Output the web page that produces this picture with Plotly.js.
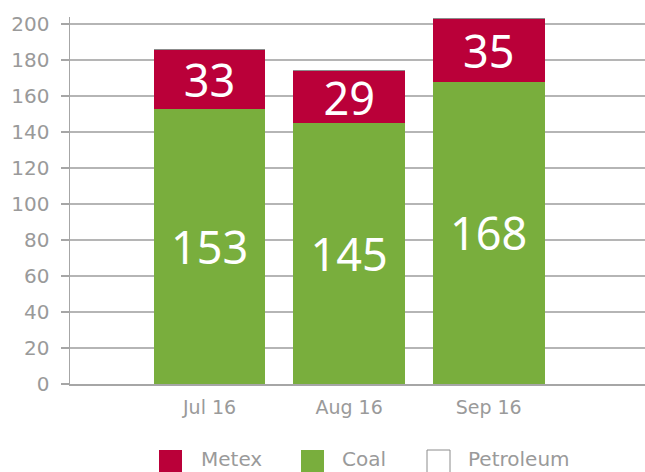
<!DOCTYPE html>
<html>
<head>
<meta charset="utf-8">
<script src="https://cdn.plot.ly/plotly-3.0.1.min.js"></script>
<style>html,body{margin:0;padding:0;background:#fff;}#chart{width:645px;height:472px;}</style>
</head>
<body>
<div id="chart"></div>
<script>
var categories = ["Jul 16", "Aug 16", "Sep 16"];
var coal = [153, 145, 168];
var metex = [33, 29, 35];
var petroleum = [0, 0, 0];
var yTicks = [0, 20, 40, 60, 80, 100, 120, 140, 160, 180, 200];
var seriesNames = ["Metex", "Coal", "Petroleum"];
var seriesColors = ["#ba0039", "#79ae3d", "#ffffff"];

var FONT = "'DejaVu Sans', 'Noto Sans', sans-serif";
var BIGFONT = "'Noto Sans', 'Open Sans', sans-serif";
var GREY = "#9a9a9a";

var M = {l: 70, r: 0, t: 17, b: 88};
var W = 645, H = 472;
var pw = W - M.l - M.r, ph = H - M.t - M.b;
function px2x(px) { return (px - M.l) / pw; }
function px2y(py) { return (H - M.b - py) / ph; }

var traces = [
  {
    type: "bar", name: "Coal", x: categories, y: coal,
    marker: {color: seriesColors[1]},
    text: coal.map(String), textposition: "inside", insidetextanchor: "middle",
    textangle: 0, constraintext: "none",
    textfont: {color: "#ffffff", size: 45, family: BIGFONT},
    hoverinfo: "none", showlegend: false
  },
  {
    type: "bar", name: "Metex", x: categories, y: metex,
    marker: {color: seriesColors[0]},
    text: metex.map(String), textposition: "inside", insidetextanchor: "middle",
    textangle: 0, constraintext: "none",
    textfont: {color: "#ffffff", size: 45, family: BIGFONT},
    hoverinfo: "none", showlegend: false
  },
  {
    type: "bar", name: "Petroleum", x: categories, y: petroleum,
    marker: {color: seriesColors[2], line: {color: "#8c8c8c", width: 1}},
    hoverinfo: "none", showlegend: false
  }
];

// Manual legend (larger swatches than Plotly's built-in legend allows)
var legendSquareX = [159, 301, 427];
var legendTextX = [201, 342, 468];
var shapes = [], annotations = [];
for (var i = 0; i < seriesNames.length; i++) {
  shapes.push({
    type: "rect", xref: "paper", yref: "paper",
    x0: px2x(legendSquareX[i]), x1: px2x(legendSquareX[i] + 23),
    y0: px2y(473), y1: px2y(450),
    fillcolor: seriesColors[i],
    line: {color: i === 2 ? "#8c8c8c" : seriesColors[i], width: i === 2 ? 1 : 0}
  });
  annotations.push({
    xref: "paper", yref: "paper", x: px2x(legendTextX[i] - 2), y: px2y(458.5),
    xanchor: "left", yanchor: "middle", showarrow: false,
    text: seriesNames[i], font: {size: 20, color: GREY, family: FONT}
  });
}

var layout = {
  width: W, height: H,
  margin: M,
  barmode: "stack",
  bargap: 0.2,
  paper_bgcolor: "#fff", plot_bgcolor: "#fff",
  font: {family: FONT, color: GREY, size: 17},
  showlegend: false,
  shapes: shapes,
  annotations: annotations,
  xaxis: {
    type: "category", range: [-1, 3.12], showgrid: false,
    showline: true, linecolor: "#a6a6a6", linewidth: 1.5,
    ticks: "", ticklabelstandoff: 6,
    tickfont: {size: 19, color: GREY}, fixedrange: true
  },
  yaxis: {
    range: [0, 204], tickvals: yTicks, ticktext: yTicks.map(String),
    showgrid: true, gridcolor: "#b5b5b5", gridwidth: 1.5,
    showline: true, linecolor: "#a6a6a6", linewidth: 1.5,
    ticks: "outside", ticklen: 8, tickcolor: "#a6a6a6", tickwidth: 1.5,
    ticklabelstandoff: 7,
    tickfont: {size: 20, color: GREY}, zeroline: false, fixedrange: true
  }
};

Plotly.newPlot("chart", traces, layout, {displayModeBar: false, staticPlot: true});
</script>
</body>
</html>
